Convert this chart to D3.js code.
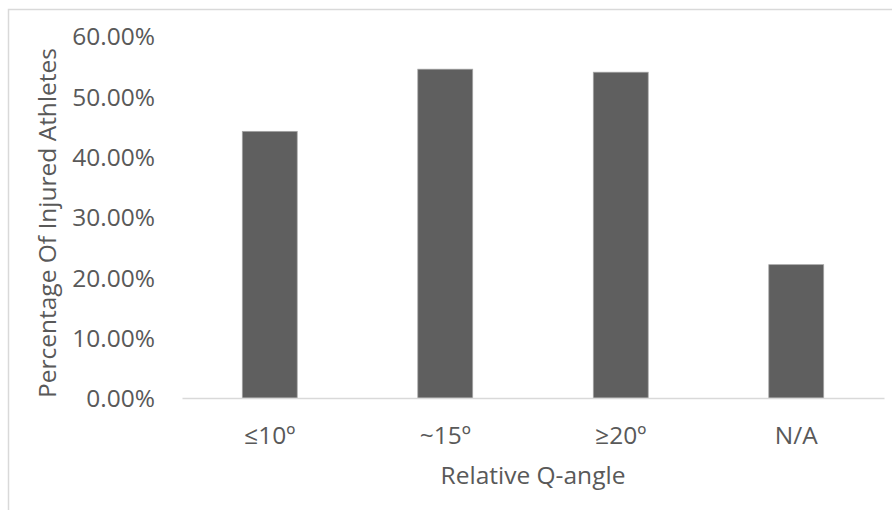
<!DOCTYPE html>
<html>
<head>
<meta charset="utf-8">
<script src="https://cdn.jsdelivr.net/npm/d3@7"></script>
<style>
  html, body { margin: 0; padding: 0; background: #ffffff; }
  svg { display: block; }
  text { font-family: "Open Sans", sans-serif; fill: #595959; }
</style>
</head>
<body>
<svg id="chart" width="892" height="510"></svg>
<script>
const categories = ["≤10º", "~15º", "≥20º", "N/A"];
const values = [0.442, 0.545, 0.540, 0.221];
const yTicks = [0, 0.1, 0.2, 0.3, 0.4, 0.5, 0.6];
const xTitle = "Relative Q-angle";
const yTitle = "Percentage Of Injured Athletes";

const svg = d3.select("#chart");
const W = 892, H = 510;
const FS = "24.5px";

// chart frame (only top and left edges visible)
svg.append("rect")
  .attr("x", 8.5).attr("y", 9.5)
  .attr("width", W + 20).attr("height", H + 20)
  .attr("fill", "none").attr("stroke", "#d9d9d9").attr("stroke-width", 1.5);

const plot = { left: 182, right: 884, top: 36, bottom: 398 };

const x = d3.scaleBand()
  .domain(categories)
  .range([plot.left, plot.right])
  .paddingInner(0.687)
  .paddingOuter(0.3435);

const y = d3.scaleLinear()
  .domain([0, 0.6])
  .range([plot.bottom, plot.top]);

// bars
svg.append("g").selectAll("rect")
  .data(values)
  .join("rect")
  .attr("x", (d, i) => x(categories[i]))
  .attr("y", d => y(d))
  .attr("width", x.bandwidth())
  .attr("height", d => y(0) - y(d))
  .attr("fill", "#5f5f5f")
  .attr("stroke", "#a6a6a6")
  .attr("stroke-width", 0.75);

// x axis
const xAxis = svg.append("g")
  .attr("transform", `translate(0,${plot.bottom})`)
  .call(d3.axisBottom(x).tickSize(0).tickPadding(0));
xAxis.select(".domain").attr("stroke", "#d9d9d9").attr("stroke-width", 1.5);
xAxis.selectAll("text")
  .attr("dy", null)
  .attr("y", 46)
  .style("font-size", FS)
  .style("font-family", "'Open Sans', sans-serif")
  .attr("fill", "#595959");

// y axis
const yAxis = svg.append("g")
  .attr("transform", `translate(${plot.left},0)`)
  .call(d3.axisLeft(y).tickValues(yTicks).tickSize(0).tickFormat(d3.format(".2%")));
yAxis.select(".domain").remove();
yAxis.selectAll("text")
  .attr("x", -27)
  .attr("dy", "0.36em")
  .style("font-size", FS)
  .style("font-family", "'Open Sans', sans-serif")
  .attr("fill", "#595959");

// titles
svg.append("text")
  .attr("x", 533).attr("y", 484)
  .attr("text-anchor", "middle")
  .style("font-size", FS)
  .text(xTitle);

svg.append("text")
  .attr("transform", `translate(56,${(plot.top + plot.bottom) / 2 + 6}) rotate(-90)`)
  .attr("text-anchor", "middle")
  .style("font-size", FS)
  .text(yTitle);
</script>
</body>
</html>
